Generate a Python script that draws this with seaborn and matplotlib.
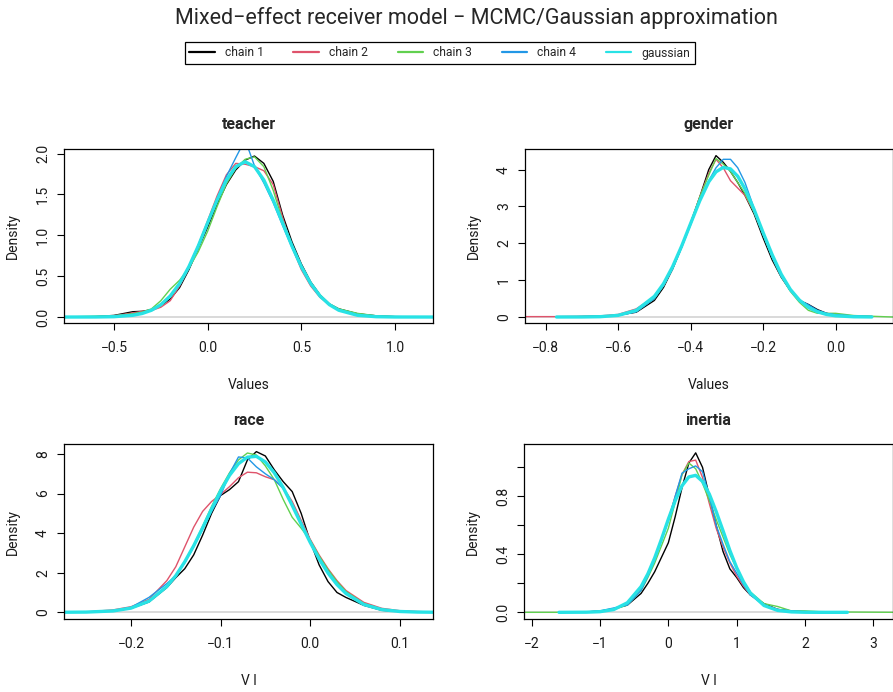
import numpy as np
import matplotlib
matplotlib.use('Agg')
import matplotlib.pyplot as plt
import seaborn as sns

# Density curves (chains 1-4 + gaussian approx)
teacher_x = [-0.77, -0.6, -0.5, -0.4, -0.35, -0.3, -0.25, -0.2, -0.15, -0.1, -0.05, 0.0, 0.05, 0.1, 0.15,
             0.2, 0.25, 0.3, 0.35, 0.4, 0.45, 0.5, 0.55, 0.6, 0.65, 0.7, 0.8, 0.9, 1.0, 1.21]
teacher_c1 = [0.0, 0.005, 0.02, 0.065, 0.07, 0.09, 0.14, 0.22, 0.36, 0.58, 0.84, 1.10, 1.38, 1.62, 1.80,
              1.92, 1.97, 1.88, 1.66, 1.25, 0.92, 0.65, 0.43, 0.27, 0.16, 0.10, 0.04, 0.015, 0.005, 0.0]
teacher_c2 = [0.0, 0.003, 0.015, 0.05, 0.07, 0.08, 0.12, 0.20, 0.38, 0.60, 0.88, 1.18, 1.48, 1.74, 1.88,
              1.87, 1.84, 1.79, 1.62, 1.22, 0.86, 0.58, 0.38, 0.24, 0.15, 0.09, 0.03, 0.01, 0.003, 0.0]
teacher_c3 = [0.0, 0.01, 0.015, 0.04, 0.06, 0.10, 0.20, 0.34, 0.45, 0.60, 0.80, 1.05, 1.35, 1.63, 1.82,
              1.93, 1.96, 1.84, 1.55, 1.18, 0.88, 0.63, 0.42, 0.27, 0.16, 0.10, 0.045, 0.015, 0.004, 0.0]
teacher_c4 = [0.0, 0.003, 0.01, 0.03, 0.05, 0.08, 0.15, 0.25, 0.40, 0.62, 0.88, 1.15, 1.45, 1.72, 1.95,
              2.17, 1.85, 1.64, 1.40, 1.12, 0.85, 0.60, 0.40, 0.25, 0.15, 0.085, 0.025, 0.006, 0.002, 0.0]
teacher_gauss = [0.0, 0.0006, 0.004, 0.021, 0.043, 0.083, 0.151, 0.257, 0.41, 0.617, 0.87, 1.153, 1.43, 1.676, 1.84,
                 1.90, 1.84, 1.676, 1.43, 1.153, 0.87, 0.617, 0.41, 0.257, 0.151, 0.083, 0.021, 0.004, 0.0006, 0.0]

gender_x = [-0.857, -0.77, -0.7, -0.65, -0.6, -0.55, -0.5, -0.475, -0.45, -0.425, -0.4, -0.375, -0.35, -0.33,
            -0.31, -0.29, -0.27, -0.25, -0.225, -0.2, -0.175, -0.15, -0.125, -0.1, -0.075, -0.05, -0.025,
            0.0, 0.05, 0.1, 0.157]
gender_c1 = [np.nan, 0.0, 0.01, 0.02, 0.05, 0.13, 0.45, 0.80, 1.30, 1.90, 2.55, 3.25, 4.00, 4.38,
             4.20, 3.95, 3.65, 3.30, 2.80, 2.15, 1.55, 1.08, 0.72, 0.45, 0.34, 0.20, 0.10,
             0.05, 0.02, 0.01, np.nan]
gender_c2 = [0.01, 0.01, 0.02, 0.03, 0.07, 0.22, 0.55, 0.85, 1.30, 1.90, 2.55, 3.25, 3.90, 4.28,
             4.05, 3.70, 3.50, 3.30, 2.85, 2.25, 1.65, 1.12, 0.72, 0.45, 0.25, 0.12, 0.07,
             0.05, 0.03, 0.02, np.nan]
gender_c3 = [np.nan, 0.0, 0.01, 0.02, 0.05, 0.15, 0.50, 0.85, 1.30, 1.90, 2.55, 3.25, 3.85, 4.30,
             4.15, 3.95, 3.65, 3.35, 2.85, 2.25, 1.62, 1.10, 0.70, 0.40, 0.18, 0.10, 0.10,
             0.10, 0.04, 0.02, 0.0]
gender_c4 = [np.nan, 0.0, 0.01, 0.02, 0.04, 0.14, 0.50, 0.85, 1.30, 1.88, 2.50, 3.15, 3.70, 4.05,
             4.28, 4.28, 4.05, 3.65, 2.95, 2.25, 1.62, 1.10, 0.72, 0.46, 0.33, 0.18, 0.10,
             0.06, 0.03, 0.01, np.nan]
gender_gauss = [np.nan, 0.0, 0.001, 0.008, 0.044, 0.18, 0.56, 0.90, 1.36, 1.92, 2.54, 3.15, 3.67, 3.94,
                4.06, 4.02, 3.82, 3.48, 2.92, 2.29, 1.69, 1.16, 0.75, 0.46, 0.26, 0.14, 0.068,
                0.032, 0.006, 0.001, np.nan]

race_x = [-0.275, -0.25, -0.22, -0.2, -0.18, -0.16, -0.15, -0.14, -0.13, -0.12, -0.11, -0.1, -0.09, -0.08,
          -0.07, -0.06, -0.05, -0.04, -0.03, -0.02, -0.01, 0.0, 0.01, 0.02, 0.03, 0.04, 0.06, 0.08,
          0.1, 0.12, 0.137]
race_c1 = [0.0, 0.01, 0.06, 0.20, 0.52, 1.25, 1.75, 2.20, 2.90, 3.90, 5.00, 5.90, 6.20, 6.60,
           7.70, 8.12, 7.90, 7.20, 6.60, 6.10, 5.00, 3.60, 2.40, 1.55, 1.00, 0.75, 0.35, 0.10,
           0.04, 0.01, 0.0]
race_c2 = [0.0, 0.02, 0.12, 0.28, 0.65, 1.60, 2.30, 3.30, 4.30, 5.10, 5.60, 5.95, 6.35, 6.80,
           7.08, 7.05, 6.85, 6.70, 6.30, 5.60, 4.65, 3.70, 2.90, 2.20, 1.60, 1.10, 0.50, 0.20,
           0.08, 0.04, 0.01]
race_c3 = [0.0, 0.01, 0.07, 0.22, 0.55, 1.28, 1.85, 2.55, 3.40, 4.35, 5.35, 6.25, 7.05, 7.70,
           8.05, 7.95, 7.40, 6.70, 5.70, 4.80, 4.25, 3.65, 2.85, 2.15, 1.55, 1.05, 0.45, 0.16,
           0.05, 0.01, 0.0]
race_c4 = [0.0, 0.01, 0.08, 0.25, 0.75, 1.45, 1.85, 2.50, 3.30, 4.20, 5.10, 5.90, 7.00, 7.85,
           7.80, 7.35, 7.00, 6.70, 6.25, 5.40, 4.50, 3.60, 2.75, 2.05, 1.45, 1.00, 0.42, 0.15,
           0.05, 0.015, 0.0]
race_gauss = [0.001, 0.009, 0.067, 0.21, 0.56, 1.30, 1.85, 2.55, 3.36, 4.27, 5.22, 6.13, 6.92, 7.51,
              7.84, 7.88, 7.60, 7.05, 6.30, 5.40, 4.46, 3.54, 2.70, 1.98, 1.40, 0.95, 0.39, 0.134,
              0.04, 0.01, 0.002]

inertia_x = [-2.11, -1.6, -1.2, -1.0, -0.8, -0.6, -0.4, -0.3, -0.2, -0.1, 0.0, 0.1, 0.2, 0.3, 0.4, 0.5,
             0.6, 0.7, 0.8, 0.9, 1.0, 1.1, 1.2, 1.4, 1.6, 1.8, 2.0, 2.2, 2.62, 3.28]
inertia_c1 = [np.nan, 0.0, 0.003, 0.008, 0.025, 0.05, 0.13, 0.20, 0.28, 0.38, 0.48, 0.66, 0.86, 1.03, 1.10, 1.00,
              0.80, 0.60, 0.42, 0.30, 0.24, 0.17, 0.12, 0.06, 0.02, 0.01, 0.005, 0.002, 0.0, np.nan]
inertia_c2 = [np.nan, 0.0, 0.003, 0.008, 0.02, 0.06, 0.16, 0.26, 0.37, 0.50, 0.64, 0.80, 0.95, 1.04, 1.05, 0.93,
              0.75, 0.58, 0.45, 0.34, 0.25, 0.18, 0.12, 0.05, 0.02, 0.01, 0.005, 0.002, 0.0, np.nan]
inertia_c3 = [0.0, 0.0, 0.003, 0.008, 0.02, 0.05, 0.15, 0.24, 0.34, 0.46, 0.58, 0.76, 0.95, 1.03, 0.99, 0.89,
              0.77, 0.64, 0.52, 0.40, 0.30, 0.21, 0.14, 0.06, 0.04, 0.01, 0.01, 0.005, 0.002, 0.0]
inertia_c4 = [np.nan, 0.0, 0.003, 0.01, 0.03, 0.05, 0.15, 0.25, 0.36, 0.50, 0.63, 0.80, 0.96, 0.99, 1.01, 0.97,
              0.80, 0.60, 0.47, 0.35, 0.27, 0.19, 0.12, 0.05, 0.02, 0.01, 0.003, 0.001, 0.0, np.nan]
inertia_gauss = [np.nan, 0.0, 0.0009, 0.0045, 0.019, 0.066, 0.177, 0.265, 0.376, 0.506, 0.643, 0.77, 0.873, 0.934, 0.945, 0.903,
                 0.815, 0.695, 0.563, 0.427, 0.308, 0.21, 0.133, 0.047, 0.013, 0.003, 0.0005, 0.0, 0.0, np.nan]

series_names = ['chain 1', 'chain 2', 'chain 3', 'chain 4', 'gaussian']
series_colors = ['black', '#DF536B', '#61D04F', '#2297E6', '#28E2E5']
series_widths = [1.0, 1.0, 1.0, 1.0, 2.4]

panels = [
    ('teacher', teacher_x, [teacher_c1, teacher_c2, teacher_c3, teacher_c4, teacher_gauss],
     'Values', (-0.767, 1.203), (-0.073, 2.056),
     [-0.5, 0.0, 0.5, 1.0], ['\u22120.5', '0.0', '0.5', '1.0'],
     [0.0, 0.5, 1.0, 1.5, 2.0], ['0.0', '0.5', '1.0', '1.5', '2.0']),
    ('gender', gender_x, [gender_c1, gender_c2, gender_c3, gender_c4, gender_gauss],
     'Values', (-0.857, 0.157), (-0.163, 4.56),
     [-0.8, -0.6, -0.4, -0.2, 0.0], ['\u22120.8', '\u22120.6', '\u22120.4', '\u22120.2', '0.0'],
     [0, 1, 2, 3, 4], ['0', '1', '2', '3', '4']),
    ('race', race_x, [race_c1, race_c2, race_c3, race_c4, race_gauss],
     'V l', (-0.2748, 0.1372), (-0.34, 8.49),
     [-0.2, -0.1, 0.0, 0.1], ['\u22120.2', '\u22120.1', '0.0', '0.1'],
     [0, 2, 4, 6, 8], ['0', '2', '4', '6', '8']),
    ('inertia', inertia_x, [inertia_c1, inertia_c2, inertia_c3, inertia_c4, inertia_gauss],
     'V l', (-2.108, 3.28), (-0.046, 1.159),
     [-2, -1, 0, 1, 2, 3], ['\u22122', '\u22121', '0', '1', '2', '3'],
     [0.0, 0.2, 0.4, 0.6, 0.8, 1.0], ['0.0', '', '0.4', '', '0.8', '']),
]

sns.set_style('white')
plt.rcParams['font.family'] = ['Roboto', 'DejaVu Sans']

W, H = 893, 692
fig = plt.figure(figsize=(W / 100, H / 100), dpi=100)

# axes boxes in pixels: left, top, right, bottom
boxes = [(64, 149, 433, 323), (525, 149, 892.5, 323),
         (64, 444.3, 433, 619), (524.3, 444.3, 892.5, 619)]

for (name, xs, ys_list, xlab, xlim, ylim, xt, xtl, yt, ytl), (l, t, r, b) in zip(panels, boxes):
    ax = fig.add_axes([l / W, 1 - b / H, (r - l) / W, (b - t) / H])
    w_px, h_px = r - l, b - t
    ax.axhline(0, color='#d3d3d3', lw=1.2, zorder=1)
    xs = np.array(xs, dtype=float)
    for ys, col, lw in zip(ys_list, series_colors, series_widths):
        ys = np.array(ys, dtype=float)
        ok = ~np.isnan(ys)
        sns.lineplot(x=xs[ok], y=ys[ok], color=col, linewidth=lw, ax=ax,
                     estimator=None, sort=False, legend=False, zorder=2)
    ax.set_xlim(*xlim)
    ax.set_ylim(*ylim)
    ax.set_xticks(xt, xtl)
    ax.set_yticks(yt, ytl, rotation=90, va='center')
    ax.tick_params(axis='both', bottom=True, left=True, direction='out', length=5,
                   width=0.8, color='black', labelsize=10, labelcolor='#1a1a1a')
    ax.tick_params(axis='x', pad=8)
    ax.tick_params(axis='y', pad=5)
    for sp in ax.spines.values():
        sp.set_visible(True)
        sp.set_color('black')
        sp.set_linewidth(0.9)
    ax.set_xlabel(xlab, fontsize=10, color='#1a1a1a')
    ax.set_ylabel('Density', fontsize=10, color='#1a1a1a')
    ax.xaxis.set_label_coords(0.5, -62 / h_px)
    ax.xaxis.label.set_va('center')
    ax.yaxis.set_label_coords(-51 / w_px, 0.5)
    ax.yaxis.label.set_va('center')
    ax.set_title(name, fontsize=11.5, fontweight='bold', y=1 + 24 / h_px, pad=0, va='center')

fig.text(476.5 / W, 1 - 18 / H, 'Mixed\u2212effect receiver model \u2212 MCMC/Gaussian approximation',
         ha='center', va='center', fontsize=15.5)

handles = [plt.Line2D([], [], color=c, lw=1.6) for c in series_colors]
fig.legend(handles, series_names, ncol=5, loc='center',
           bbox_to_anchor=(439.9 / W, 1 - 53 / H), fontsize=8.7,
           frameon=True, fancybox=False, edgecolor='black', framealpha=1,
           handlelength=2.1, handletextpad=0.85, columnspacing=2.45,
           borderpad=0.35, borderaxespad=0)
fig.legends[0].get_frame().set_linewidth(0.9)

fig.savefig('out.png', dpi=100)
